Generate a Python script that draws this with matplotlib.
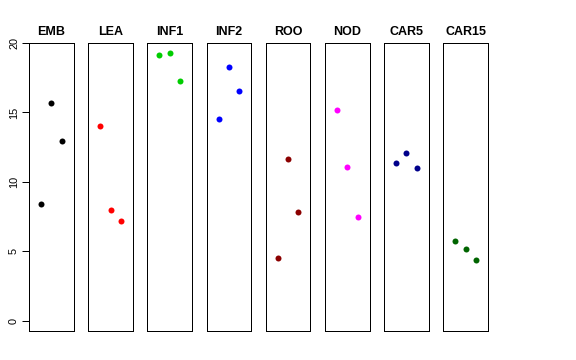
import matplotlib
matplotlib.use('Agg')
import matplotlib.pyplot as plt

plt.rcParams['font.family'] = ['Liberation Sans', 'DejaVu Sans']

# Values per panel (three points each, at x = 1, 2, 3)
groups = ['EMB', 'LEA', 'INF1', 'INF2', 'ROO', 'NOD', 'CAR5', 'CAR15']
emb = [8.4, 15.7, 12.95]
lea = [14.0, 7.95, 7.15]
inf1 = [19.1, 19.25, 17.25]
inf2 = [14.5, 18.27, 16.55]
roo = [4.5, 11.65, 7.85]
nod = [15.2, 11.08, 7.43]
car5 = [11.32, 12.1, 11.0]
car15 = [5.77, 5.15, 4.38]
series = [emb, lea, inf1, inf2, roo, nod, car5, car15]
colors = ['black', 'red', '#00CD00', 'blue', '#8B0000', 'magenta', '#00008B', '#006400']
x = [1, 2, 3]

fig, axes = plt.subplots(1, 8, figsize=(8, 5), dpi=72)
fig.subplots_adjust(left=29 / 576, right=488 / 576, bottom=1 - 331 / 360,
                    top=1 - 43 / 360, wspace=0.323)

for i, ax in enumerate(axes):
    ax.plot(x, series[i], 'o', color=colors[i], markersize=6, markeredgewidth=0)
    ax.set_xlim(-0.16, 4.16)
    ax.set_ylim(-0.75, 20)
    ax.set_title(groups[i], fontsize=12.5, fontweight='bold', pad=8)
    ax.set_xticks([])
    for s in ax.spines.values():
        s.set_linewidth(1)
        s.set_color('black')
    if i == 0:
        ax.set_yticks([0, 5, 10, 15, 20])
        ax.tick_params(axis='y', length=7, width=1, labelsize=11, pad=3)
        for lab in ax.get_yticklabels():
            lab.set_rotation(90)
            lab.set_va('center')
    else:
        ax.set_yticks([])

fig.savefig('out.png', dpi=72)
